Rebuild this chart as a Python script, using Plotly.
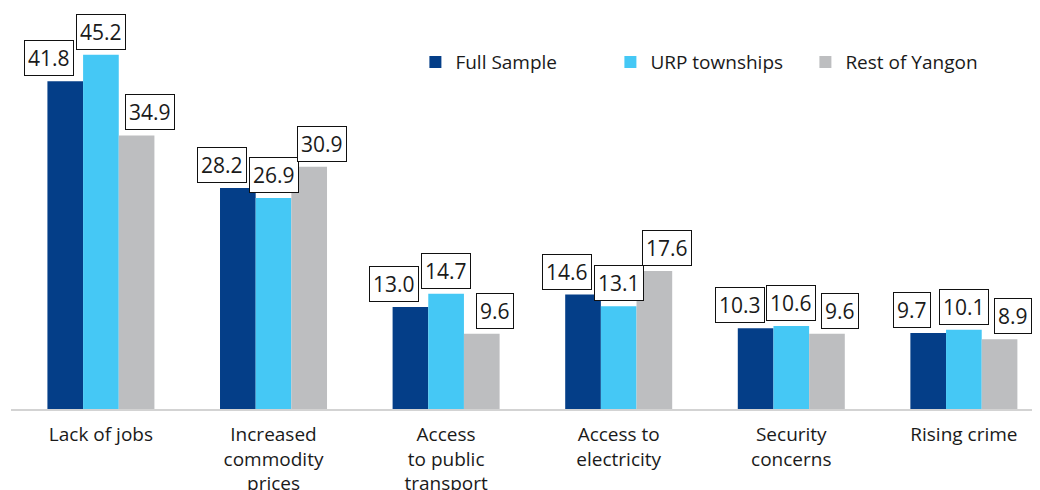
import plotly.graph_objects as go

# ── Data ─────────────────────────────────────────────────────────────────────
categories = ["Lack of jobs", "Increased<br>commodity<br>prices", "Access<br>to public<br>transport",
              "Access to<br>electricity", "Security<br>concerns", "Rising crime"]
full_sample = [41.8, 28.2, 13.0, 14.6, 10.3, 9.7]
urp_townships = [45.2, 26.9, 14.7, 13.1, 10.6, 10.1]
rest_of_yangon = [34.9, 30.9, 9.6, 17.6, 9.6, 8.9]

series = [
    ("Full Sample", full_sample, "#043E88"),
    ("URP townships", urp_townships, "#45C8F5"),
    ("Rest of Yangon", rest_of_yangon, "#BDBEC0"),
]

FONT = "'Open Sans', Lato, sans-serif"
TEXT = "#1A1A1A"
GAP = 0.38
BAR_W = (1 - GAP) / 3
LABEL_SHIFT = [-16, 0, 13]   # pixel nudge of the value boxes per series

xs = list(range(len(categories)))

fig = go.Figure()
for name, vals, col in series:
    fig.add_trace(go.Bar(x=xs, y=vals, name=name, marker=dict(color=col, line_width=0)))

# value boxes
for k, (name, vals, col) in enumerate(series):
    for i, v in enumerate(vals):
        fig.add_annotation(
            x=i + (k - 1) * BAR_W, y=v, xref="x", yref="y",
            text=f"{v:.1f}", showarrow=False,
            xanchor="center", yanchor="bottom", xshift=LABEL_SHIFT[k], yshift=5,
            font=dict(size=21, color=TEXT, family=FONT),
            bgcolor="white", bordercolor="#111111", borderwidth=1, borderpad=3,
        )

# the page adds an 8px body margin, so the figure is 8px smaller than the window
fig.update_layout(
    width=1032, height=482,
    barmode="group", bargap=GAP, bargroupgap=0,
    paper_bgcolor="white", plot_bgcolor="white",
    margin=dict(l=3, r=0, t=0, b=81),
    font=dict(family=FONT, color=TEXT, size=19),
    showlegend=True,
    legend=dict(orientation="h", x=0.393, y=0.865, xanchor="left", yanchor="middle",
                font=dict(size=19, color=TEXT, family=FONT), bgcolor="rgba(0,0,0,0)",
                traceorder="normal", entrywidth=150, entrywidthmode="pixels"),
    xaxis=dict(range=[-0.521, 5.441], tickmode="array", tickvals=xs, ticktext=categories,
               showgrid=False, zeroline=False, showline=True, linecolor="#D3D3D3", linewidth=2,
               ticks="", ticklabelstandoff=7, automargin=False,
               tickfont=dict(size=19, color=TEXT, family=FONT)),
    yaxis=dict(range=[0, 51.15], visible=False, showgrid=False, zeroline=False),
)

fig.write_html("out.html")
